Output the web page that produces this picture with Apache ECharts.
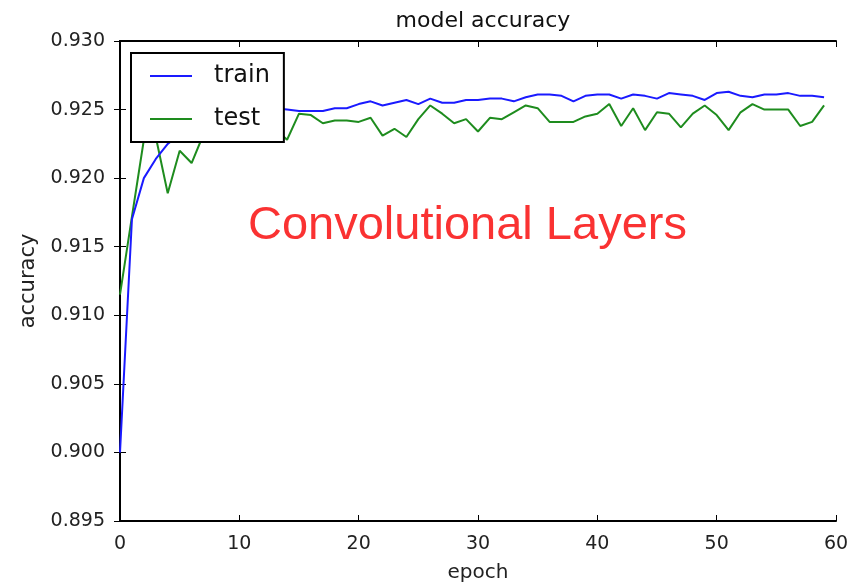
<!DOCTYPE html>
<html>
<head>
<meta charset="utf-8">
<script src="https://cdn.jsdelivr.net/npm/echarts@6/dist/echarts.min.js"></script>
<style>
	html, body { margin: 0; padding: 0; background: #fff; }
	#chart { width: 862px; height: 585px; }
</style>
</head>
<body>
<div id="chart"></div>
<script>
// epochs 0..59
let epochs = [];
for (let i = 0; i < 60; i++) epochs.push(i);

let trainAcc = [
	0.9000, 0.9170, 0.9200, 0.9214, 0.9225, 0.9232, 0.9237, 0.9241, 0.9244, 0.9246,
	0.9248, 0.9249, 0.9250, 0.9251, 0.9250, 0.9249, 0.9249, 0.9249, 0.9251, 0.9251,
	0.9254, 0.9256, 0.9253, 0.9255, 0.9257, 0.9254, 0.9258, 0.9255, 0.9255, 0.9257,
	0.9257, 0.9258, 0.9258, 0.9256, 0.9259, 0.9261, 0.9261, 0.9260, 0.9256, 0.9260,
	0.9261, 0.9261, 0.9258, 0.9261, 0.9260, 0.9258, 0.9262, 0.9261, 0.9260, 0.9257,
	0.9262, 0.9263, 0.9260, 0.9259, 0.9261, 0.9261, 0.9262, 0.9260, 0.9260, 0.9259
];

let testAcc = [
	0.9115, 0.9172, 0.9228, 0.9230, 0.9189, 0.9220, 0.9211, 0.9232, 0.9238, 0.9236,
	0.9242, 0.9240, 0.9243, 0.9236, 0.9228, 0.9247, 0.9246, 0.9240, 0.9242, 0.9242,
	0.9241, 0.9244, 0.9231, 0.9236, 0.9230, 0.9243, 0.9253, 0.9247, 0.9240, 0.9243,
	0.9234, 0.9244, 0.9243, 0.9248, 0.9253, 0.9251, 0.9241, 0.9241, 0.9241, 0.9245,
	0.9247, 0.9254, 0.9238, 0.9251, 0.9235, 0.9248, 0.9247, 0.9237, 0.9247, 0.9253,
	0.9246, 0.9235, 0.9248, 0.9254, 0.9250, 0.9250, 0.9250, 0.9238, 0.9241, 0.9253
];

let seriesNames = ["train", "test"];
let yMin = 0.895, yMax = 0.930, yStep = 0.005;
let xMin = 0, xMax = 60, xStep = 10;

function pairs(values) {
	return values.map(function (v, i) { return [epochs[i], v]; });
}

function accuracyChart() {
	let dom = document.getElementById("chart");
	let myChart = echarts.init(dom, null, { renderer: "canvas" });

	let font = "DejaVu Sans";
	let frameLine = { show: true, lineStyle: { color: "#000", width: 2 } };
	let innerTick = { show: true, inside: true, length: 6, lineStyle: { color: "#000", width: 1 } };

	let option = {
		animation: false,
		backgroundColor: "#fff",
		title: {
			text: "model accuracy",
			left: 478,
			top: 5,
			textAlign: "center",
			textStyle: { fontFamily: font, fontSize: 22, fontWeight: "normal", color: "#111" },
		},
		grid: { left: 120, right: 26, top: 41, bottom: 64, outerBoundsMode: "none" },
		legend: {
			data: seriesNames,
			orient: "vertical",
			left: 131,
			top: 53,
			z: 10,
			backgroundColor: "#fff",
			borderColor: "#000",
			borderWidth: 2,
			borderRadius: 0,
			padding: [11, 14, 11, 19],
			itemGap: 19,
			itemWidth: 42,
			itemHeight: 2,
			icon: "rect",
			textStyle: { fontFamily: font, fontSize: 24, color: "#111", padding: [0, 0, 0, 17] },
		},
		xAxis: [
			{
				type: "value",
				min: xMin, max: xMax, interval: xStep,
				name: "epoch",
				nameLocation: "middle",
				nameGap: 42,
				nameTextStyle: { fontFamily: font, fontSize: 20, color: "#222" },
				axisLine: frameLine,
				axisTick: innerTick,
				axisLabel: { fontFamily: font, fontSize: 19, color: "#222", margin: 14 },
				splitLine: { show: false },
			},
			{
				type: "value", position: "top",
				min: xMin, max: xMax, interval: xStep,
				axisLine: frameLine,
				axisTick: innerTick,
				axisLabel: { show: false },
				splitLine: { show: false },
			},
		],
		yAxis: [
			{
				type: "value",
				min: yMin, max: yMax, interval: yStep,
				name: "accuracy",
				nameLocation: "middle",
				nameRotate: 90,
				nameGap: 81,
				nameTextStyle: { fontFamily: font, fontSize: 21, color: "#222" },
				axisLine: frameLine,
				axisTick: innerTick,
				axisLabel: {
					fontFamily: font, fontSize: 19, color: "#222", margin: 15,
					formatter: function (v) { return v.toFixed(3); },
				},
				splitLine: { show: false },
			},
			{
				type: "value", position: "right",
				min: yMin, max: yMax, interval: yStep,
				axisLine: frameLine,
				axisTick: innerTick,
				axisLabel: { show: false },
				splitLine: { show: false },
			},
		],
		series: [
			{
				name: seriesNames[0],
				type: "line",
				data: pairs(trainAcc),
				showSymbol: false,
				itemStyle: { color: "#1a1aff" },
				lineStyle: { color: "#1a1aff", width: 2 },
				z: 3,
			},
			{
				name: seriesNames[1],
				type: "line",
				data: pairs(testAcc),
				showSymbol: false,
				itemStyle: { color: "#1e8c1e" },
				lineStyle: { color: "#1e8c1e", width: 2 },
				z: 2,
			},
		],
		graphic: [
			{
				type: "text",
				left: 248,
				top: 203,
				z: 20,
				style: {
					text: "Convolutional Layers",
					fontFamily: "Liberation Sans",
					fontSize: 47,
					fill: "#fa3232",
				},
			},
		],
	};

	myChart.setOption(option);
	window.addEventListener("resize", myChart.resize);
}

(function init() {
	accuracyChart();
})();
</script>
</body>
</html>
